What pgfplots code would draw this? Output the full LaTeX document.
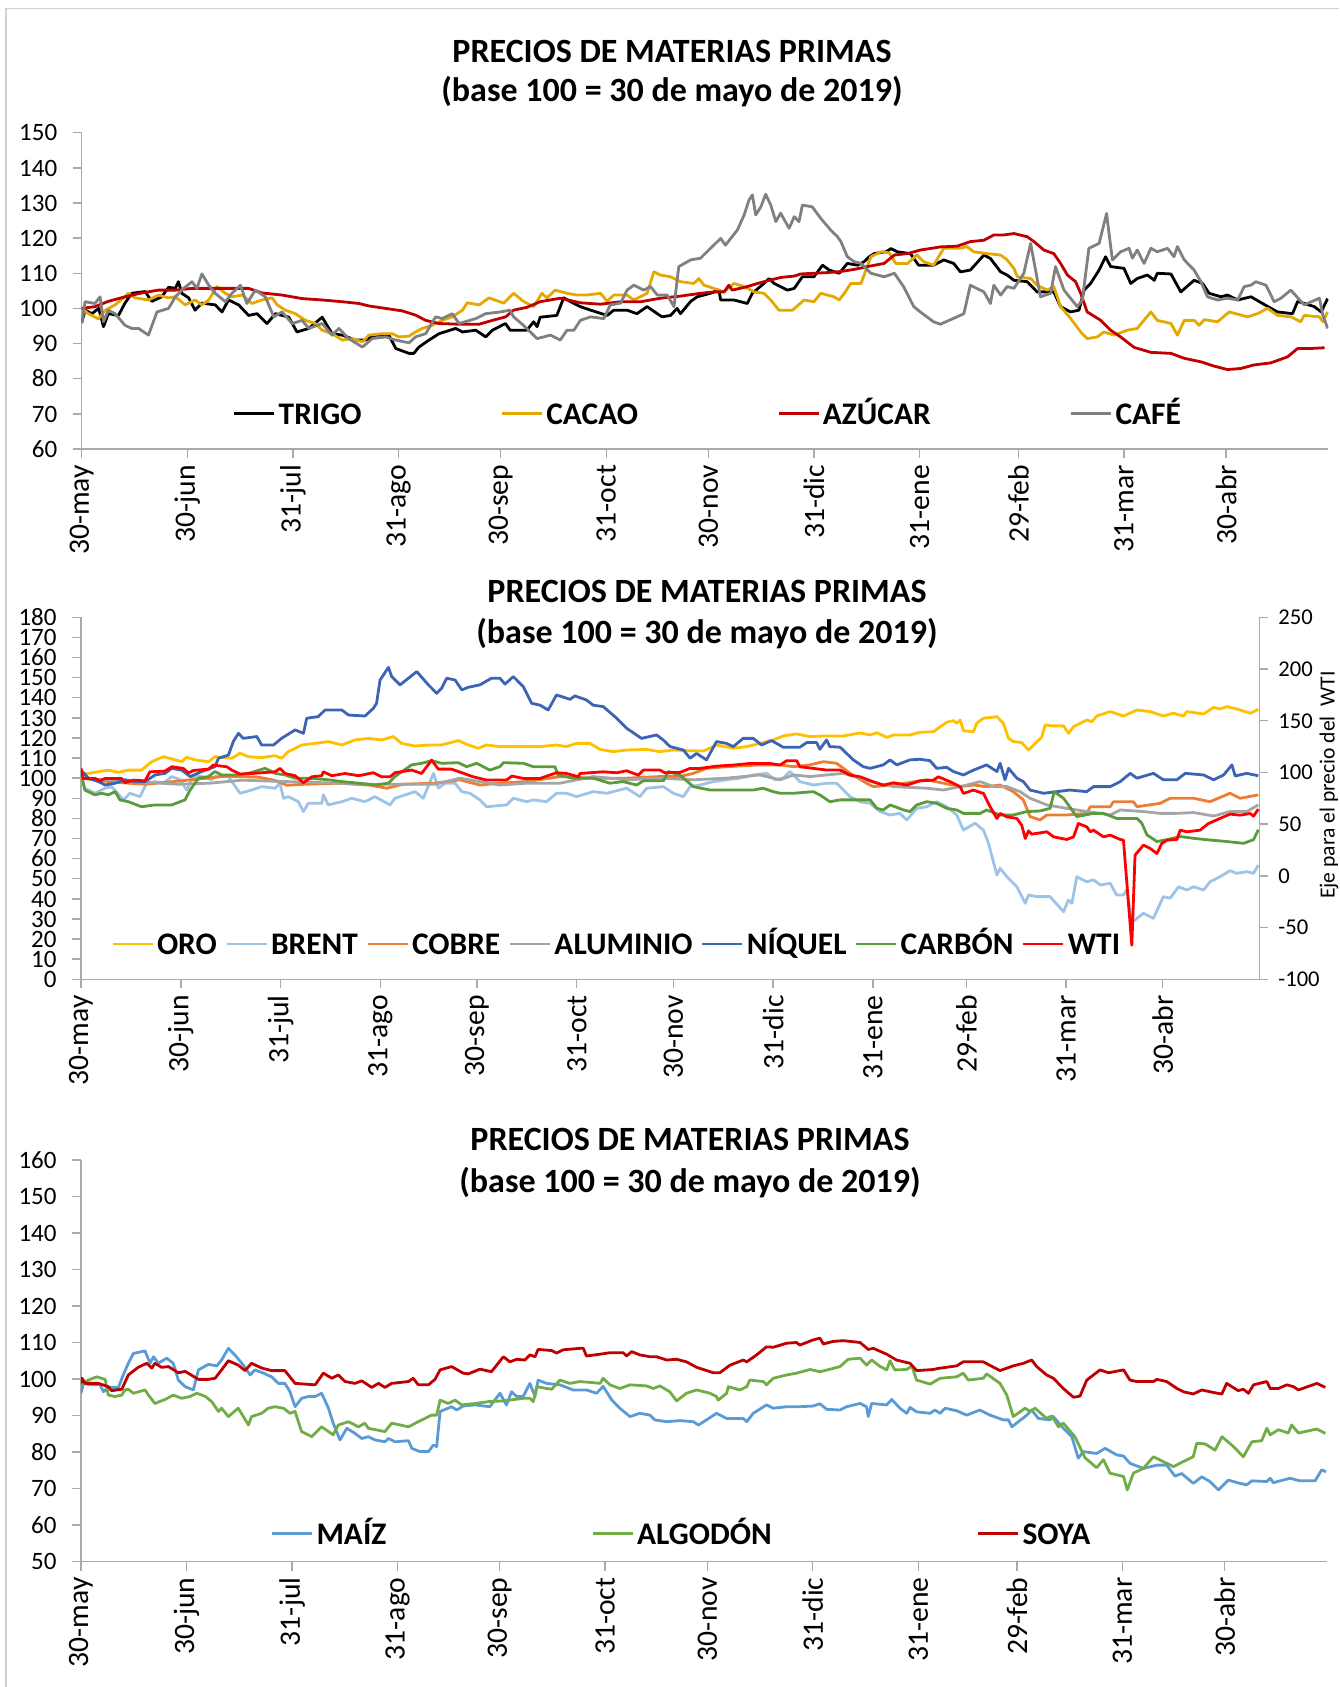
\documentclass[border=0pt]{standalone}
\usepackage{fontspec}
\setmainfont{Carlito}
\usepackage{pgfplots}
\pgfplotsset{compat=1.18}

\definecolor{cTrigo}{RGB}{0,0,0}
\definecolor{cCacao}{RGB}{228,168,0}
\definecolor{cAzucar}{RGB}{192,0,0}
\definecolor{cCafe}{RGB}{128,128,128}
\definecolor{cOro}{RGB}{255,192,0}
\definecolor{cBrent}{RGB}{157,195,230}
\definecolor{cCobre}{RGB}{237,125,49}
\definecolor{cAlum}{RGB}{165,165,165}
\definecolor{cNiquel}{RGB}{59,100,180}
\definecolor{cCarbon}{RGB}{92,155,58}
\definecolor{cWti}{RGB}{255,0,0}
\definecolor{cMaiz}{RGB}{91,155,213}
\definecolor{cAlgodon}{RGB}{112,173,71}
\definecolor{cSoya}{RGB}{192,0,0}
\definecolor{axgray}{RGB}{170,170,170}

\pgfplotsset{
  base/.style={
    scale only axis,
    xmin=0, xmax=366,
    axis x line*=bottom, axis y line*=left,
    axis line style={draw=axgray, line width=0.7pt},
    tick style={draw=axgray, line width=0.7pt},
    tick align=outside,
    major tick length=4.5pt,
    xtick={0,31,62,93,123,154,184,215,246,275,306,336},
    xticklabels={30-may,30-jun,31-jul,31-ago,30-sep,31-oct,30-nov,31-dic,31-ene,29-feb,31-mar,30-abr},
    x tick label style={rotate=90, anchor=east, font=\fontsize{14.8}{17}\selectfont},
    y tick label style={font=\fontsize{12.5}{15}\selectfont, inner ysep=0pt, text height=8.2pt, text depth=0pt},
    yticklabel shift=4.2pt,
    /pgf/number format/assume math mode=true,
    legend columns=-1,
    legend style={draw=none, fill=none, inner sep=0pt,
      font=\fontsize{15.7}{18}\selectfont\bfseries,
      nodes={inner xsep=1.5pt, inner ysep=1pt, text height=11pt, text depth=0pt}},
    legend image code/.code={\draw[#1] (0pt,0pt) -- (20pt,0pt);},
    every axis plot/.append style={line width=1.4pt, mark=none, line join=round},
  }
}

\begin{document}
\begin{tikzpicture}
\useasboundingbox (0,0) rectangle (669.5pt,843.5pt);
\draw[black!18, line width=0.6pt] (3pt,0pt) -- (3pt,839.2pt) -- (669.5pt,839.2pt);

% ---------------- TOP CHART ----------------
\node[font=\fontsize{17}{20}\selectfont\bfseries, anchor=base] at (336pt,812pt) {PRECIOS DE MATERIAS PRIMAS};
\node[font=\fontsize{17}{20}\selectfont\bfseries, anchor=base] at (336pt,792.7pt) {(base 100 = 30 de mayo de 2019)};
\begin{axis}[base,
  at={(40.85pt,619pt)}, anchor=south west,
  width=623.3pt, height=158.15pt,
  ymin=60, ymax=150, ytick={60,70,...,150},
  legend style={at={(0.121,0.111)}, anchor=west,
    /tikz/every even column/.append style={column sep=68pt}},
]
\addplot[cTrigo] coordinates {(0,96)(1,99.5)(3,98.5)(5,100)(6.4,94.8)(7.8,98.5)(10.8,98)(12.7,101.5)(14.7,104.3)(18.6,104.8)(20.6,102)(23.5,103.3)(25.5,106)(27.5,105.7)(28.4,107.6)(29.4,104.3)(31.4,103)(33.3,99.5)(35.3,101.5)(39.2,101)(41.2,99)(43.1,102.4)(46.1,101)(49,98)(51.5,98.5)(54.4,95.7)(56.9,98.5)(60.8,97.5)(63.2,93.3)(66.7,94.3)(70.6,97.5)(73.5,92.8)(76.5,92.4)(80.4,91)(83.3,91)(86.3,92.4)(90.2,92.4)(92.2,88.6)(96.1,87.2)(97.5,87.2)(99,89)(102,91)(104.9,92.8)(109.8,94.3)(111.8,93.3)(115.7,93.8)(118.6,91.9)(120.6,93.8)(124.4,95.7)(125.8,93.8)(130.7,93.8)(132.7,96.2)(133.7,94.8)(134.6,97.5)(139.5,98)(141.5,103)(144.5,101.4)(146.4,100.5)(149.4,99.5)(154.3,98)(156.2,99.5)(160.1,99.5)(163,98.5)(166,100.5)(169,98.5)(170.4,97.6)(172.9,98)(174.8,100)(175.8,98.5)(178.8,102)(180.7,103.3)(184.6,104.3)(187.1,105.2)(187.6,102.4)(191.5,102.4)(195.4,101.4)(196.9,104.3)(200.3,107.1)(201.8,108.5)(203.3,107.1)(207.2,105.2)(209.2,105.7)(211.6,109)(215,109)(217.5,112.3)(219.5,110.9)(222.4,110)(224.8,112.8)(227.8,112.3)(229.7,113.3)(231.2,114.7)(232.7,115.6)(236.1,116.1)(237.6,117)(239.5,116.1)(243.3,115.6)(245.7,112.3)(250.1,112.3)(253.1,113.8)(256,112.8)(258,110.4)(260.9,110.9)(264.9,115.2)(266.8,114.2)(269.8,110.4)(271.7,109.5)(273.7,108)(277.6,107.6)(280.5,104.7)(285.4,104.7)(287.4,100.5)(290.3,99)(292.8,99.5)(294.3,105.2)(296.2,107.1)(298.7,110.9)(300.6,114.7)(302.1,111.9)(306,111.4)(308,107.1)(309.9,108.5)(312.9,109.5)(314.9,108)(315.8,110)(319.8,109.8)(322.7,104.7)(326.6,108)(329.1,107.1)(331,104.3)(334.5,103.3)(336.4,103.8)(339.4,102.4)(343.3,103.3)(349.2,100)(351.1,99)(355.5,98.5)(357,102)(361.9,100.5)(363.9,99)(365.8,102.8)};
\addlegendentry{TRIGO}
\addplot[cCacao] coordinates {(0,100)(2,98.5)(4.9,97)(6.9,99.5)(9.8,101)(12.7,103.3)(13.7,104.3)(15.7,103)(19.6,102.4)(22.5,103.8)(25.5,103)(27.5,103.3)(30.4,101)(33.3,102.4)(35.3,101)(37.3,102.4)(39.7,106.2)(42.2,104.3)(44.1,103.3)(47.1,103.8)(50,101.4)(52.9,102.4)(55.9,103)(57.4,101)(59.8,99.5)(62.7,98.5)(65.7,96.6)(68.6,95.7)(70.6,93.8)(73.5,92.8)(76.5,91)(79.4,91.4)(82.4,90.5)(84.3,92.4)(88.2,92.8)(91.2,92.8)(93.1,91.9)(96.1,92.1)(98,93.3)(100,94.3)(102.9,95.2)(105.9,96.6)(108.8,97.6)(111.8,99.5)(113.2,101.6)(116.7,101)(119.6,103)(123.9,101.5)(126.8,104.3)(129.7,102)(132.7,100.5)(135.1,104.3)(136.6,103)(139,105.2)(142.5,104.3)(145.4,103.8)(148.4,103.8)(152.3,104.3)(154.3,102)(156.2,103.8)(160.1,103.8)(162.1,102.4)(166,104.3)(168,110.4)(169.9,109.5)(172.9,109)(175.8,107.6)(179.7,107.1)(181.2,108.5)(182.7,106.6)(185.6,105.7)(188.6,104.7)(191.5,107.1)(194.5,106.2)(197.4,104.7)(200.3,104.3)(202.3,102.4)(204.7,99.5)(208.7,99.5)(212.1,102.4)(215,101.9)(217,104.3)(220.9,103.3)(222.4,102.4)(223.9,104.3)(225.8,107.1)(228.8,107.1)(231.7,114.7)(234.6,116.1)(237.1,115.8)(239,112.8)(242.5,112.8)(245.2,115.2)(247.2,113.3)(250.1,112.3)(253.1,117.1)(258,117.1)(259.9,117.6)(261.9,116.1)(265.8,115.6)(269.8,115.2)(271.7,113.8)(273.7,111.4)(274.7,109)(278.6,108.5)(280.5,106.6)(283.5,105.2)(285.4,106.2)(287.4,100.5)(290.3,97.2)(293.3,93.3)(295.2,91.4)(298.2,91.9)(300.1,93.3)(303.1,92.4)(307,93.8)(309.9,94.3)(313.9,99)(315.8,96.6)(319.8,95.7)(321.7,92.4)(323.7,96.6)(326.6,96.6)(328.1,95.2)(329.6,96.8)(333.5,96.2)(336.9,99)(342.3,97.6)(345.2,98.5)(348.2,100)(351.1,98)(355,97.6)(357.9,96.2)(358.9,98)(363.4,97.6)(364.4,96.2)(365.8,99)};
\addlegendentry{CACAO}
\addplot[cAzucar] coordinates {(0,100)(3.9,100.5)(7.8,102)(12.7,103.3)(17.6,104.4)(22.5,105.2)(27.5,105.2)(32.4,105.7)(37.3,105.7)(42.2,105.7)(49,105.7)(52.9,104.4)(58.8,103.8)(64.7,102.8)(70.6,102.4)(76.5,101.9)(81.4,101.4)(84.3,100.7)(89.2,100)(94.1,99.3)(98,98.1)(101,96.6)(104.9,95.7)(110.8,95.5)(116.7,95.5)(120.6,96.6)(124.5,97.6)(126.8,99.5)(130.7,100.3)(134.6,101.9)(140.5,102.9)(146.4,101.6)(152.3,101.2)(158.2,101.9)(164.1,101.9)(169.9,102.9)(175.8,103.5)(181.7,104.3)(185.6,104.7)(188.6,104.7)(190,106.6)(191,105.2)(195.4,106.2)(198.4,107.1)(202.3,108.1)(205.2,108.8)(209.2,109.2)(211.1,109.8)(215,110)(219,110.2)(222.9,110.5)(226.8,111.1)(230.7,111.9)(235.6,112.8)(238.6,115.2)(242.5,115.6)(246.2,116.6)(252.1,117.5)(257,117.7)(260.9,119)(264.9,119.4)(267.8,120.9)(270.7,120.9)(273.7,121.3)(277.6,120.4)(279.6,119)(282.5,116.6)(285.4,115.6)(287.4,112.8)(289.4,109.5)(291.8,107.6)(293.3,104.3)(295.2,99)(299.2,96.6)(302.1,93.8)(305,91.9)(309,88.9)(313.9,87.5)(319.8,87.2)(323.7,85.8)(328.6,84.8)(332.4,83.6)(336.4,82.6)(340.3,82.9)(344.1,83.9)(349.1,84.5)(354,86.2)(357,88.6)(360.9,88.6)(364.9,88.8)};
\addlegendentry{AZÚCAR}
\addplot[cCafe] coordinates {(0,95.7)(1,101.9)(3.9,101.4)(5.4,103.3)(6.4,96.2)(7.8,99.5)(9.8,98.5)(12.7,95.2)(14.7,94.3)(16.7,94.3)(19.6,92.4)(22.1,99)(25.5,100)(27.5,103.3)(29.9,105.7)(32.4,107.6)(33.8,105.7)(35.3,109.8)(37.3,106.6)(39.2,104.3)(42.2,101.9)(44.1,104.3)(46.6,106.6)(48.5,101.4)(51,105.2)(53.9,103.3)(56.4,97.6)(58.8,99)(61.8,95.7)(64.7,96.6)(66.7,94.3)(70.6,95.7)(73.5,92.4)(75.5,94.3)(78.4,91.4)(82.4,89)(85.3,91.4)(89.2,91.9)(92.2,91)(96.1,90.2)(98,91.9)(101,92.8)(103.9,97.6)(105.9,97.1)(108.8,98.5)(110.8,95.7)(115.7,97.1)(118.6,98.5)(122.9,99)(125.8,99.5)(126.8,97.6)(129.7,95.2)(133.7,91.4)(137.6,92.4)(140.5,91)(142.5,93.8)(144.5,93.8)(146.4,96.6)(149.4,97.6)(153.3,97.1)(155.2,101)(158.2,101.5)(160.1,105.2)(162.1,106.6)(165,105.2)(167,106.2)(169,103.8)(171.9,103.8)(173.9,100.5)(175.3,111.9)(178.8,113.8)(181.7,114.3)(184.6,117.1)(187.6,119.9)(189,118)(192.5,122.3)(194.5,126.6)(195.9,130.8)(196.9,132.3)(197.9,126.6)(199.4,128.9)(200.8,132.5)(202.3,129.4)(203.8,124.7)(205.2,127.1)(207.7,122.8)(209.2,126.1)(210.6,124.7)(211.6,129.4)(214.5,128.9)(217,125.6)(219.9,122.3)(221.9,120.4)(222.9,119)(224.8,114.7)(226.8,113.3)(228.8,112.8)(231.7,110)(235.6,109)(238.6,110)(241.3,106.2)(244.3,100.5)(246.2,99)(250.1,96.2)(252.1,95.5)(257,97.6)(259,98.5)(260.9,106.6)(264.9,104.7)(266.8,101.4)(267.8,106.6)(269.8,103.8)(271.7,106.2)(273.7,105.7)(276.6,110)(278.6,118.5)(281.5,103.3)(284.5,104.3)(285.9,111.9)(288.4,105.2)(292.3,100.5)(293.8,102.4)(295.7,117.1)(298.7,118.5)(300.9,127)(302.6,113.8)(305,116.1)(307.5,117.1)(308.5,114.3)(309.9,116.6)(311.9,112.8)(313.9,117.1)(315.8,116.1)(318.8,117.1)(320.7,114.7)(321.7,117.6)(323.7,113.8)(326.6,110.9)(328.6,107.6)(330.5,103.3)(333.5,102.4)(336.4,102.9)(339.4,102.4)(341.3,106.2)(343.3,106.6)(344.7,107.6)(347.7,106.6)(350.1,101.9)(352.1,102.9)(355,105.2)(358.9,101)(363.4,102.9)(364.4,98.1)(365.8,94.3)};
\addlegendentry{CAFÉ}
\end{axis}

% ---------------- MIDDLE CHART ----------------
\node[font=\fontsize{17}{20}\selectfont\bfseries, anchor=base] at (353.5pt,542pt) {PRECIOS DE MATERIAS PRIMAS};
\node[font=\fontsize{17}{20}\selectfont\bfseries, anchor=base] at (353.5pt,521.7pt) {(base 100 = 30 de mayo de 2019)};
\begin{axis}[base,
  at={(40.5pt,353.85pt)}, anchor=south west,
  width=589.15pt, height=181pt,
  ymin=0, ymax=180, ytick={0,10,...,180},
]
\addplot[cOro] coordinates {(0,101.6)(2.3,102.4)(5.4,103.2)(8.5,104)(11.6,102.9)(14.7,104)(18.8,104)(22,108.2)(25.6,110.7)(28.2,109.6)(31.3,108.2)(32.8,110.4)(35.4,109.1)(39.6,108.2)(41.6,110.7)(46.8,109.9)(49.4,112.4)(52,110.7)(56.1,110.2)(60.3,111.2)(62.3,109.9)(64.4,113.2)(68.6,116.5)(72.7,117.3)(76.8,118.2)(81,116.5)(85.1,119)(89.3,119.8)(93.4,119)(97,120.7)(99.6,117.3)(103.8,116)(107.9,116.5)(112,116.5)(117.2,118.7)(120.3,116.5)(123.4,114.9)(126,116.5)(130.1,115.7)(136.3,115.7)(142.6,115.7)(147.7,116.5)(150.8,115.7)(153.9,117.3)(158.1,117.3)(161.2,114.3)(165.3,113.2)(169.5,114)(175.7,114.3)(179.8,113.2)(184,114)(188.1,113.7)(193.3,113.5)(197.4,116.5)(202.6,114.9)(206.8,115.7)(210.9,117.3)(215,119)(218.1,121)(222.3,122)(226.4,120.7)(231.6,121)(236.8,121)(242,122.5)(245.1,121.5)(247.2,122.6)(250.3,120.3)(252.4,121.5)(257.5,121.5)(260.6,122.8)(264.8,123.1)(266.9,125.6)(268.9,127.8)(271,128.6)(272,127.3)(273.1,128.9)(274.1,123.6)(277.2,123.1)(278.2,127.3)(280.3,129.8)(284.5,130.6)(286.5,127.3)(288.1,119.8)(289.6,118.2)(292.2,117.7)(294.3,114)(296.4,117.3)(298.4,120.3)(299.5,126.5)(301.5,126)(305.2,126)(306.7,122.3)(308.3,125.6)(312.4,128.9)(314,128.1)(315.5,130.9)(319.7,133.1)(323.8,130.9)(328,133.9)(332.1,133.1)(336.2,130.9)(339.3,132.3)(342.4,130.9)(343.5,133.1)(348.7,131.9)(351.8,135.2)(353.8,134.4)(355.9,135.6)(359,134.4)(363.2,132.3)(365.7,134.2)};
\addplot[cBrent] coordinates {(0,100.8)(1.2,95)(4.3,92.5)(7.5,95)(9.5,95.8)(13.2,89.2)(15.2,92.5)(18.3,90.8)(20.4,97.5)(23,98.3)(25.6,97.5)(28.2,100.8)(30.8,99.2)(32.8,94.1)(34.9,100.8)(37.5,100.8)(40.6,99.2)(41.6,100.8)(45.8,100.8)(49.4,92.5)(53,94.1)(56.1,95.8)(60.3,95)(61.8,97.5)(62.9,90)(64.4,90.8)(67.5,88.3)(69.1,83.4)(70.6,87.5)(74.8,87.5)(75.3,91.7)(76.8,86.7)(81,88.3)(84.1,90)(88.2,88.3)(91.3,90.8)(96,86.7)(97.5,90)(100.7,91.7)(103.8,93.3)(106.3,90)(109.5,102.4)(111,95)(113.1,97.5)(116.2,97.5)(118.3,93.3)(120.8,92.5)(123.9,89.2)(126,85.8)(132.2,86.7)(134.3,90)(138.4,88.3)(140.5,89.2)(144.6,88.3)(147.7,92.5)(150.8,92.5)(153.9,90.8)(159.1,93.3)(163.3,92.5)(169.5,95)(173.6,90.8)(175.7,95)(180.9,95.8)(184,92.5)(187.1,90.8)(189.2,95.8)(192.3,96.6)(196.4,98.3)(200.5,99.2)(204.7,100)(208.8,101.6)(213,102.4)(215.6,99.2)(218.1,100)(220.2,103.3)(223.3,98.3)(227.5,96.6)(231.6,97.5)(234.7,97.5)(238.9,90.8)(242,88.3)(245.1,87.5)(248.2,83.4)(251.3,81.7)(254.4,82.5)(256.5,79.2)(259.6,85)(262.7,85.8)(265.8,88.3)(268.9,85.8)(272,81.7)(274.1,74.2)(277.7,77.6)(280.3,74.2)(281.9,67.6)(284.5,51.8)(285.5,55.2)(287.6,51)(290.7,46)(293.3,37.8)(294.3,41.9)(296.9,41.1)(301,41.1)(305.2,33.6)(306.7,39.4)(307.8,37.8)(309.3,51)(312.4,48.5)(314.5,49.4)(316.6,46.9)(319.7,47.7)(321.7,41.9)(323.8,41.9)(324.8,44.4)(326.4,28.6)(327.4,29.5)(330,32.8)(333.1,30.3)(336.2,41.1)(338.3,40.3)(340.9,46)(343.5,44.4)(345.6,46)(348.7,44.4)(350.7,48.5)(353.8,51)(356.9,54)(359,52.7)(362.1,53.5)(364.2,52.7)(365.7,56.8)};
\addplot[cCobre] coordinates {(0,100)(10,98)(20,97)(30,98.5)(45,101)(55,100.5)(60,99)(64,96.5)(70,97)(80,97.5)(90,96.5)(95,95)(100,97)(110,97.5)(117.7,99.2)(123.9,96.6)(130.1,97.5)(138.4,98.3)(148.8,100.8)(159.1,100)(169.5,100)(179.8,100.8)(186,100.8)(190.2,102.4)(194.3,104.9)(200.5,105.7)(210.9,106.6)(217.1,106.6)(221.3,105.7)(226.4,106.6)(230.6,108.2)(234.7,107.4)(238.9,102.4)(244,97.5)(246.1,95.8)(252.4,96.6)(262.7,99.2)(267.9,97.5)(273.1,95.8)(277.2,96.6)(281.3,95.8)(285.5,96.6)(289.6,93.3)(292.7,89.2)(294.8,80.9)(297.9,79.2)(300,81.7)(306.2,81.7)(312.4,82.5)(313.5,85.8)(319.7,85.8)(320.7,88.3)(326.9,88.3)(328,85.8)(335.2,87.5)(338.3,90)(345.6,90)(350.7,88.3)(356.9,92.5)(360,90)(365.7,91.7)};
\addplot[cAlum] coordinates {(0,100)(10,99)(20,98)(30,97)(40,97.5)(50,99)(60,98.5)(70,98)(80,97.5)(90,97)(100,97)(110,97)(117.7,100)(123.9,98.3)(130.1,96.6)(138.4,97.5)(148.8,97.5)(159.1,100.8)(169.5,99.2)(179.8,100)(190.2,99.2)(200.5,100)(210.9,101.6)(217.1,99.2)(221.3,101.6)(226.4,100.8)(231.6,101.6)(236.8,102.4)(242,100)(247.1,97.5)(252.4,95.8)(262.7,95)(267.9,94.1)(273.1,95.8)(279.3,98.3)(283.4,95.8)(287.6,95.8)(291.7,93.3)(294.8,90)(300,86.7)(306.2,85)(312.4,83.4)(319.7,81.7)(322.8,84.2)(330,83.4)(335.2,82.5)(340.4,82.5)(345.6,82.9)(351.8,81.2)(356.9,83.4)(362.1,83.4)(365.7,86.7)};
\addplot[cNiquel] coordinates {(0,104)(2.3,100)(5.4,98.3)(7.5,96.6)(10.6,97.5)(13.7,99.2)(16.8,98.3)(19.9,98.3)(23,101.6)(26.1,102.4)(28.2,104.9)(31.3,104)(33.9,100.8)(37.5,103.3)(41.6,105.7)(42.7,109.9)(45.8,111.5)(47.3,118.2)(48.9,122.3)(50.4,119.8)(54.6,120.7)(56.1,116.5)(59.8,116.5)(62.3,119.8)(66.5,124)(69.1,122.3)(70.1,129.8)(73.7,130.6)(75.8,133.9)(81,133.9)(83.1,131.4)(88.2,130.9)(90.8,134.7)(91.8,137.2)(92.9,148.8)(95.5,155.1)(96.5,150.5)(99.1,146.4)(101.7,149.7)(104.3,153)(107.9,146.4)(110.5,142.2)(112,144.7)(113.6,149.7)(116.2,148.8)(118.3,143.9)(120.3,145.2)(123.9,146.4)(127.5,149.7)(130.1,149.7)(131.7,146.8)(134.3,150.5)(137.4,145.5)(140,137.2)(142.6,136.3)(145.1,133.9)(147.7,141.4)(151.9,139.2)(153.4,140.9)(157,138.9)(159.1,136.3)(162.2,135.6)(166.4,129.8)(169.5,124.8)(174.1,119.8)(178.8,121.5)(180.9,118.9)(183,115.7)(187.1,114)(189.2,109.9)(191.2,112.3)(194.3,109.1)(197.4,118.2)(200.5,117.3)(202.6,115.7)(205.7,119.8)(208.8,119.8)(211.4,116.5)(214.5,118.7)(218.1,115.4)(223.3,115.4)(225.4,117.7)(228.5,117.7)(229.5,114.4)(231.6,119)(232.6,115.7)(235.8,115.4)(239.9,109.1)(243,105.7)(245.1,104.9)(249.2,106.6)(251.3,109.1)(253.4,106.6)(257.5,109.1)(260.6,109.4)(263.7,108.7)(265.8,104.9)(268.9,105.4)(271,103.3)(274.1,101.6)(277.2,104)(281.3,106.6)(284.5,103.3)(285.5,107.4)(287,99.2)(288.1,104.9)(290.7,100)(292.7,98.3)(294.8,94.1)(299,92.5)(303.1,93.3)(307.2,94.1)(312.4,93.3)(314.5,95.8)(319.7,95.8)(322.8,98.3)(325.9,102.4)(328,100)(333.1,102.4)(336.2,99.2)(340.4,99.2)(343,102.4)(348.7,101.6)(351.8,99.2)(354.9,101.6)(357.5,106.6)(358.5,101.1)(362.1,102.4)(365.7,101.2)};
\addplot[cCarbon] coordinates {(0,102.4)(1.2,94.1)(4.3,91.7)(6.4,92.5)(8.5,91.7)(10.6,93.3)(12.1,89.2)(14.7,88.3)(18.8,85.8)(23,86.7)(28.2,86.7)(32.3,89.2)(33.9,94.1)(36.5,100)(39.6,100.8)(41.6,103.3)(43.7,101.6)(47.8,101.6)(52,102.4)(57.2,104.9)(60.3,102.4)(63.4,101.6)(66.5,100)(70.6,100)(76.8,99.2)(81,98.3)(86.2,97.5)(91.3,96.6)(95.5,97.5)(97.5,100.8)(102.7,106.6)(105.8,107.4)(108.9,108.7)(112,107.4)(117.2,107.7)(119.8,105.7)(122.9,107.4)(127,104)(130.1,105.7)(131.2,107.7)(137.4,107.4)(140.5,105.7)(147.2,105.7)(148.2,101.6)(152.9,100)(159.1,100)(164.3,97.5)(168.4,98.3)(172.6,96.6)(174.7,98.7)(180.9,98.7)(182.4,103.3)(186,101.6)(190.2,95.8)(195.4,94.1)(200.5,94.1)(208.8,94.1)(211.9,95)(215,93.3)(217.1,92.5)(221.3,92.5)(227.5,93.3)(229.5,91.7)(232.6,88.3)(235.8,89.2)(239.9,89.2)(245.1,89.2)(247.2,85)(249.2,84.2)(251.3,86.7)(255.5,84.2)(257.5,83.4)(259.6,86.7)(262.7,88.3)(265.8,87.5)(268.9,85)(272,84.2)(274.1,82.5)(279.3,82.5)(281.3,84.2)(285.5,81.7)(289.6,81.7)(293.8,83.4)(297.9,83.7)(301,85)(302.3,93.3)(305.2,90)(309.3,80.9)(314.5,82.5)(317.6,82.5)(321.7,80)(328,80)(329.5,77.6)(331.1,71.8)(334.2,68.5)(337.3,69.4)(341.4,71)(345.6,70.1)(349.7,69.4)(355.9,68.5)(361.1,67.6)(364.2,69.4)(365.7,74.4)};
\end{axis}
\begin{axis}[base,
  at={(40.5pt,353.85pt)}, anchor=south west,
  width=589.15pt, height=181pt,
  axis x line=none, axis y line*=right,
  ymin=-100, ymax=250, ytick={-100,-50,...,250},
  yticklabels={-100,-50,0,50,100,150,200,250},
  yticklabel shift=1.5pt,
  y tick label style={font=\fontsize{11.3}{13}\selectfont, inner ysep=0pt, text height=7.4pt, text depth=0pt},
  legend style={at={(0.0253,0.0975)}, anchor=west,
    /tikz/every even column/.append style={column sep=2.7pt}},
]
\addlegendimage{cOro, line width=1.4pt}
\addlegendentry{ORO}
\addlegendimage{cBrent, line width=1.4pt}
\addlegendentry{BRENT}
\addlegendimage{cCobre, line width=1.4pt}
\addlegendentry{COBRE}
\addlegendimage{cAlum, line width=1.4pt}
\addlegendentry{ALUMINIO}
\addlegendimage{cNiquel, line width=1.4pt}
\addlegendentry{NÍQUEL}
\addlegendimage{cCarbon, line width=1.4pt}
\addlegendentry{CARBÓN}
\addplot[cWti] coordinates {(0,103.9)(0.7,94.2)(4.3,94.2)(5.9,91.9)(7.5,94.2)(12.6,94.2)(13.7,90)(16.3,92.6)(19.9,91.9)(21.4,100.6)(26.1,101.3)(28.2,105.5)(31.8,103.9)(33.4,99.4)(34.9,101.9)(39.6,103.2)(41.1,107.1)(45.3,105.5)(46.8,102.3)(49.4,98.4)(53,99)(56.1,99.7)(60.3,100.6)(61.8,103.9)(63.4,99)(66.5,96.8)(69.1,90)(71.7,95.8)(74.8,96.8)(75.3,100.6)(77.9,96.8)(82,99)(86.2,96.8)(90.8,99.7)(93.4,95.8)(96,95.8)(97.5,99.7)(102.7,102.3)(105.8,99)(108.9,111.9)(111,103.2)(115.1,103.2)(118.3,99.7)(121.8,95.8)(126,92.6)(132.2,92.6)(133.8,96.5)(137.4,94.2)(142.6,94.2)(147.7,99.7)(150.8,99)(154.5,95.8)(155,99)(162.2,100.6)(166.4,99.7)(169.5,101.6)(173.1,97.4)(174.7,102.3)(179.8,102.3)(181.4,99.7)(186,100)(189.2,103.9)(192.3,103.9)(197.4,106.1)(202.6,107.1)(207.8,108.7)(214,108.7)(217.1,107.1)(219.2,111.3)(222.3,111.3)(223.3,105.5)(227.5,103.9)(231.6,102.3)(235.8,102.3)(238.9,97.4)(242,95.8)(246.1,91)(249.2,87.7)(252.4,90)(256.5,87.7)(260.6,91.9)(264.8,92.6)(266.3,95.8)(270,91)(273.1,86.1)(274.1,79.7)(277.2,82.9)(280.3,79.7)(282.4,66.8)(284.5,55.5)(285.5,60.3)(287.6,57.1)(290.7,55.5)(292.2,49)(293.3,36.1)(294.3,43.5)(295.3,40.3)(300,42.6)(302.1,37.7)(306.2,35.2)(308.3,37.7)(309.8,50.6)(312.4,47.4)(313.5,42.6)(314.5,44.2)(317.6,37.7)(319.7,39.4)(322.8,35.2)(323.8,34.5)(326.4,-67.1)(327.4,20)(330,29.7)(332.1,26.5)(334.2,21.6)(335.7,31.3)(337.3,34.5)(340.4,35.2)(341.4,44.2)(343.5,42.6)(347.6,44.2)(350.2,50.6)(353.8,55.5)(356.9,59.7)(360,58.7)(363.2,60.3)(364.2,57.7)(365.7,64.5)};
\addlegendentry{WTI}
\end{axis}
\node[font=\fontsize{10.8}{13}\selectfont, rotate=90, anchor=base] at (667.3pt,451pt) {Eje para el precio del\ \ WTI};

% ---------------- BOTTOM CHART ----------------
\node[font=\fontsize{17}{20}\selectfont\bfseries, anchor=base] at (345pt,268.2pt) {PRECIOS DE MATERIAS PRIMAS};
\node[font=\fontsize{17}{20}\selectfont\bfseries, anchor=base] at (345pt,247.2pt) {(base 100 = 30 de mayo de 2019)};
\begin{axis}[base,
  at={(40.5pt,62.75pt)}, anchor=south west,
  width=622.85pt, height=200.75pt,
  ymin=50, ymax=160, ytick={50,60,...,160},
  legend style={at={(0.152,0.069)}, anchor=west,
    /tikz/every even column/.append style={column sep=101pt}},
]
\addplot[cMaiz] coordinates {(0,96.1)(0.7,98.8)(3.1,98.4)(5.6,98.4)(6.6,96.5)(8,97.7)(11,97.7)(12.4,101.1)(13.9,104.3)(15.4,107)(18.8,107.7)(20.3,104.3)(21.3,106.1)(22.7,104.3)(25.2,105.7)(27.1,104.3)(28.6,99.7)(30.6,97.9)(33,97)(34.5,102.5)(37.4,104)(39.9,103.6)(41.3,105.2)(43.3,108.4)(45.2,106.6)(47.7,103.8)(49.7,101.1)(51.1,102.5)(53.6,101.6)(56,100.6)(58,98.8)(59.9,98.8)(61.4,96.5)(62.9,92.4)(64.8,94.7)(66.8,95.2)(68.8,95.2)(70.7,96.1)(72.7,92)(74.1,87.9)(76.1,83.3)(78.1,86.5)(80.5,85.1)(82.5,83.7)(84.4,84.2)(86.4,83.3)(89.3,82.8)(90.3,83.7)(92.3,82.8)(96.2,83.1)(97.2,81)(99.6,80.1)(102.1,80.1)(103.5,81.9)(104.5,81.5)(105.5,91.1)(108.9,92.4)(110.4,91.5)(112.3,92.6)(115.8,92.9)(120.1,92.4)(123.1,96.1)(125,92.9)(126.5,96.5)(128,95.2)(129.9,95.2)(131.9,98.8)(133.4,95.2)(134.3,99.7)(136.8,98.8)(140.7,98.4)(144.6,97)(148.5,97)(151.5,96.1)(153.4,98)(155.9,94.3)(158.3,92)(161.3,89.7)(164.2,90.6)(167.2,90.1)(168.6,88.8)(172.1,88.3)(176,88.6)(179.9,88.3)(181.4,87.4)(183.8,88.8)(186.7,90.6)(189.7,89.2)(194.6,89.2)(195.6,88.3)(197.5,90.6)(201.4,92.9)(203.4,92)(207.3,92.4)(211.2,92.4)(215.1,92.6)(217.1,93.2)(219.1,91.7)(223,91.5)(224.9,92.4)(228.9,93.3)(230.8,92.4)(231.3,89.7)(232.3,93.3)(236.7,92.9)(238.2,94.4)(240.6,92)(242.6,90.6)(243.6,92.2)(245.5,91)(249.5,90.6)(250.9,91.5)(252.4,90.6)(253.9,92)(257.3,91.3)(260.2,90.1)(264.1,91.5)(267.1,90.1)(271,88.8)(272.5,88.8)(273.5,86.9)(277.9,90.1)(279.3,91.5)(281.3,89.2)(284.7,88.8)(285.7,89.7)(288.6,86.5)(291.1,84.2)(293,78.3)(294.5,80.1)(298.4,79.6)(300.9,81)(304.3,79.2)(306.3,78.9)(308.2,76.9)(312.1,75.5)(316.1,76.4)(319,76.4)(321.4,73.4)(323.4,74.1)(326.8,71.4)(329.3,73.2)(331.7,71.9)(334.2,69.6)(337.1,72.3)(340.5,71.4)(342.5,71)(344,72.1)(348.4,71.9)(349.4,72.8)(350.3,71.6)(355.2,72.8)(358.2,72.1)(362.6,72.1)(364.5,75.1)(365.8,74.6)};
\addlegendentry{MAÍZ}
\addplot[cAlgodon] coordinates {(0,98.4)(2.2,99.7)(4.6,100.6)(7.1,99.9)(8,95.6)(10,95.2)(12,95.6)(12.9,97)(13.9,97.2)(15.4,96.1)(18.8,97)(19.8,95.6)(21.7,93.3)(24.7,94.4)(27.1,95.6)(29.6,94.7)(32,95.2)(34,96.1)(36.4,95.3)(38.4,93.8)(40.4,91.1)(41.3,92)(43.3,89.7)(46.2,92)(49.2,87.4)(50.1,89.7)(53.1,90.6)(55,92)(57,92.4)(59.5,92)(61.4,90.6)(62.9,91.1)(64.8,85.6)(67.8,84.2)(70.7,86.9)(74.1,84.7)(75.6,87.4)(78.6,88.3)(81.5,86.9)(83.4,87.9)(84.4,86.5)(89.3,85.6)(91.3,87.9)(96.2,86.9)(99.1,88.3)(103,90.1)(104.5,90.1)(105.5,94.2)(107.9,93.3)(109.9,94.2)(111.9,92.9)(115.8,93.3)(119.7,93.8)(124.1,94)(129.9,94.7)(131.9,94.7)(132.9,93.8)(133.9,97.9)(136.8,97.4)(138.3,97.2)(140.7,99.7)(143.6,98.8)(146.6,99.3)(150.5,99)(152.5,98.8)(153.4,100.2)(155.4,98.4)(158.3,97.4)(161.3,98.4)(166.2,98.1)(168.1,97.4)(170.1,98.1)(173,96.5)(175,94)(177.9,96.1)(180.9,97)(184.8,96.1)(186.7,95.2)(187.2,94.2)(189.7,96.1)(190.2,97.9)(193.6,97)(195.6,97.9)(196.5,99.7)(200.5,99.3)(201.4,98.4)(203.4,100.2)(207.3,101.1)(210.2,101.6)(214.2,102.6)(217.1,102)(221,102.9)(223,103.4)(225.4,105.4)(228.9,105.7)(230.8,103.8)(232.3,105.2)(234.7,103.5)(236.7,102.5)(237.7,105)(239.1,102.5)(242.6,102.6)(244.1,103.6)(245.5,99.7)(249.5,98.6)(252.4,100.2)(257.3,100.6)(259.2,101.6)(260.7,99.7)(265.1,100.2)(266.1,101.4)(270,98.8)(272,95.6)(273.9,89.7)(277.4,92)(278.8,91.1)(280.3,92)(283.7,89.2)(285.2,89.9)(287.2,86.9)(288.6,87.9)(292,84.2)(295,78.4)(298.4,75.7)(300.4,77.9)(302.3,74.2)(306.3,73.3)(307.4,69.6)(309.2,74.2)(312.1,75.5)(315.1,78.7)(319,76.9)(321,76)(323.9,77.4)(326.8,78.7)(327.8,82.4)(330.3,82.2)(333.2,80.5)(335.2,84.2)(338.6,81.5)(341.5,78.7)(344,82.8)(346.9,83.1)(348.4,86.5)(349.4,84.7)(351.8,86.1)(354.7,85.2)(355.7,87.4)(357.7,85.2)(363.1,86.3)(365.6,85.1)};
\addlegendentry{ALGODÓN}
\addplot[cSoya] coordinates {(0,98.8)(0.3,100.2)(1.2,98.8)(5.1,98.8)(8,97.9)(9,96.8)(12,97.2)(13.9,101.1)(16.8,103.2)(19.3,104.3)(20.8,103)(21.7,104.3)(23.7,103.2)(25.7,103.4)(28.6,101.7)(30.6,102.1)(34.5,99.9)(37.4,99.9)(39.4,100.2)(41.3,102.5)(43.3,105)(46.2,103.8)(48.2,102.3)(50.1,104.3)(53.1,103)(56,102.3)(59.9,102.3)(62.9,98.8)(68.8,98.4)(71.2,101.6)(73.7,100.2)(75.6,101.1)(77.6,99.3)(80.5,98.8)(82.5,99.5)(85.4,97.7)(87.4,98.8)(89.3,97.7)(91.3,98.8)(96.2,99.3)(97.6,100.2)(99.1,98.4)(102.1,98.4)(104,99.9)(105.5,102.5)(108.9,103.4)(112.3,101.6)(113.8,101.4)(117.2,102.7)(120.6,102)(124.1,106.1)(126,104.7)(128,105.4)(130.4,105.2)(131.9,106.6)(133.4,106.1)(134.3,108.1)(138.3,107.8)(139.7,107.1)(141.7,108)(146.6,108.4)(147.6,108.4)(148.5,106.3)(152.5,106.8)(155.4,107.2)(159.3,107.2)(160.3,106.3)(161.8,107.5)(164.2,106.6)(167.2,106.1)(169.1,106.1)(172.1,105.2)(175,105.4)(177.9,104.7)(180.9,103.2)(185.8,101.7)(187.7,101.7)(190.7,103.8)(194.6,105.2)(195.6,104.7)(198.5,106.6)(201.4,108.8)(203.4,108.7)(207.3,109.8)(210.2,110)(211.2,109.3)(215.1,110.7)(217.1,111.2)(218.1,109.6)(221,110.3)(224,110.5)(228.9,110)(231.3,108.1)(232.8,108.4)(236.7,106.8)(239.6,105.2)(243.6,104.3)(245.5,102.3)(250.4,102.6)(251.9,102.9)(257.3,103.6)(259.2,104.7)(265.1,104.7)(270,102.3)(273.9,103.6)(276.9,104.3)(279.3,105.2)(280.8,103.4)(283.7,101.1)(285.7,100.2)(288.6,97.4)(291.6,95)(293.5,95.3)(295.5,99.7)(299.4,102.5)(301.9,101.7)(306.3,102.5)(308.2,99.7)(310.2,99.3)(315.1,99.3)(316.1,99.9)(319,99.3)(322,97.4)(323.9,96.5)(326.8,95.9)(329.3,97)(332.7,96.3)(335.2,95.9)(336.6,98.8)(340,96.8)(341.5,97.2)(343,96.1)(344.5,98.4)(348.4,99.3)(349.4,97.4)(351.8,97.4)(354.3,98.4)(356.2,97.9)(357.7,97)(363.1,98.8)(365.6,97.7)};
\addlegendentry{SOYA}
\end{axis}
\end{tikzpicture}
\end{document}
